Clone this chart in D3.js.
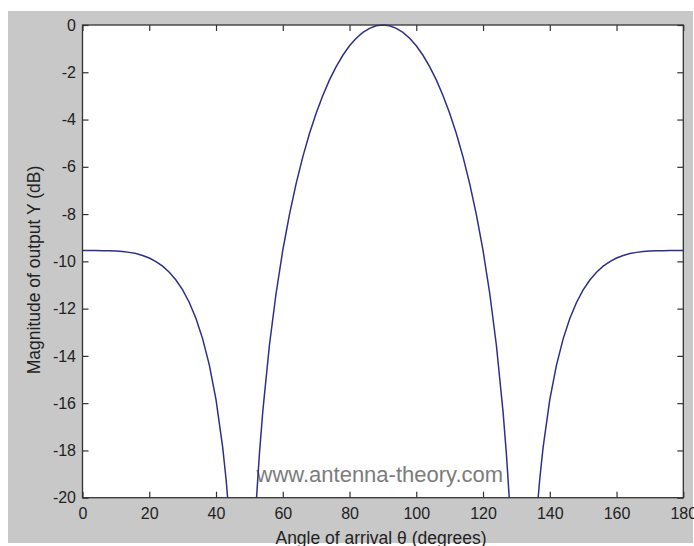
<!DOCTYPE html>
<html>
<head>
<meta charset="utf-8">
<script src="https://cdn.jsdelivr.net/npm/d3@7/dist/d3.min.js"></script>
<style>
  html, body { margin: 0; padding: 0; background: #ffffff; }
  svg { display: block; }
  text { font-family: "Liberation Sans", Arial, Helvetica, sans-serif; }
</style>
</head>
<body>
<svg id="chart" width="694" height="546"></svg>
<script>
// ---- data ----
const angles = [0,2,4,6,8,10,12,14,16,18,20,22,24,26,28,30,32,34,36,38,40,42,43,44,46,48,50,52,53,54,56,58,60,62,64,66,68,70,72,74,76,78,80,82,84,86,88,
  90,92,94,96,98,100,102,104,106,108,110,112,114,116,118,120,122,124,126,127,128,130,132,134,136,137,138,140,142,144,146,148,150,152,154,156,158,160,162,164,166,168,170,172,174,176,178,180];
const magnitudeDb = [-9.54,-9.54,-9.54,-9.55,-9.55,-9.56,-9.58,-9.62,-9.67,-9.75,-9.86,-10.01,-10.20,-10.46,-10.79,-11.21,-11.74,-12.42,-13.28,-14.39,-15.85,-17.87,-19.20,-20.86,-26.12,-47.0,-27.09,-20.32,-18.15,-16.37,-13.55,-11.35,-9.54,-8.02,-6.71,-5.58,-4.59,-3.73,-2.98,-2.32,-1.76,-1.28,-0.88,-0.56,-0.31,-0.14,-0.03,
  0,-0.03,-0.14,-0.31,-0.56,-0.88,-1.28,-1.76,-2.32,-2.98,-3.73,-4.59,-5.58,-6.71,-8.02,-9.54,-11.35,-13.55,-16.37,-18.15,-20.32,-27.09,-47.0,-26.12,-20.86,-19.20,-17.87,-15.85,-14.39,-13.28,-12.42,-11.74,-11.21,-10.79,-10.46,-10.20,-10.01,-9.86,-9.75,-9.67,-9.62,-9.58,-9.56,-9.55,-9.55,-9.54,-9.54,-9.54];
const xTicks = [0,20,40,60,80,100,120,140,160,180];
const yTicks = [0,-2,-4,-6,-8,-10,-12,-14,-16,-18,-20];
const xLabel = "Angle of arrival \u03B8 (degrees)";
const yLabel = "Magnitude of output Y (dB)";
const watermark = "www.antenna-theory.com";

// ---- layout ----
const svg = d3.select("#chart");
const L = 82.5, R = 683.3, T = 25, B = 497.7;

svg.append("rect").attr("x", 8).attr("y", 11).attr("width", 685).attr("height", 532).attr("fill", "#c8c8c8");
svg.append("rect").attr("x", L).attr("y", T).attr("width", R - L).attr("height", B - T).attr("fill", "#ffffff");

const x = d3.scaleLinear().domain([0, 180]).range([L, R]);
const y = d3.scaleLinear().domain([-20, 0]).range([B, T]);

const tickCol = "#333333";
function styleAxis(g) {
  g.select(".domain").remove();
  g.selectAll(".tick line").attr("stroke", tickCol).attr("stroke-width", 1.2);
  g.selectAll(".tick text").attr("fill", "#222").style("font-size", "16px")
    .style("font-family", '"Liberation Sans", Arial, Helvetica, sans-serif');
}

svg.append("g").attr("transform", `translate(0,${B})`)
  .call(d3.axisBottom(x).tickValues(xTicks).tickSize(-6).tickSizeOuter(0).tickPadding(10).tickFormat(d3.format("d")))
  .call(styleAxis);
svg.append("g").attr("transform", `translate(0,${T})`)
  .call(d3.axisTop(x).tickValues(xTicks).tickSize(-6).tickSizeOuter(0).tickFormat(""))
  .call(styleAxis);
svg.append("g").attr("transform", `translate(${L},0)`)
  .call(d3.axisLeft(y).tickValues(yTicks).tickSize(-6).tickSizeOuter(0).tickPadding(6.5).tickFormat(d => d3.format("d")(d).replace("\u2212", "-")))
  .call(styleAxis);
svg.append("g").attr("transform", `translate(${R},0)`)
  .call(d3.axisRight(y).tickValues(yTicks).tickSize(-6).tickSizeOuter(0).tickFormat(""))
  .call(styleAxis);

// watermark
svg.append("text").attr("x", 256.5).attr("y", 481.5).attr("fill", "#7c7c7c")
  .style("font-size", "22px").text(watermark);

// clip + line
svg.append("clipPath").attr("id", "clip").append("rect")
  .attr("x", L).attr("y", T - 1).attr("width", R - L).attr("height", B - T + 1);
const pts = angles.map((a, i) => [a, magnitudeDb[i]]);
svg.append("path").datum(pts)
  .attr("clip-path", "url(#clip)")
  .attr("fill", "none").attr("stroke", "#2e2e8c").attr("stroke-width", 1.5)
  .attr("d", d3.line().x(d => x(d[0])).y(d => y(d[1])));

// box
svg.append("rect").attr("x", L).attr("y", T).attr("width", R - L).attr("height", B - T)
  .attr("fill", "none").attr("stroke", tickCol).attr("stroke-width", 1.3);

// axis labels
svg.append("text").attr("x", 381).attr("y", 544).attr("text-anchor", "middle")
  .attr("fill", "#222").style("font-size", "17.5px").text(xLabel);
svg.append("text").attr("transform", "translate(40,270) rotate(-90)").attr("text-anchor", "middle")
  .attr("fill", "#222").style("font-size", "17.5px").text(yLabel);
</script>
</body>
</html>
